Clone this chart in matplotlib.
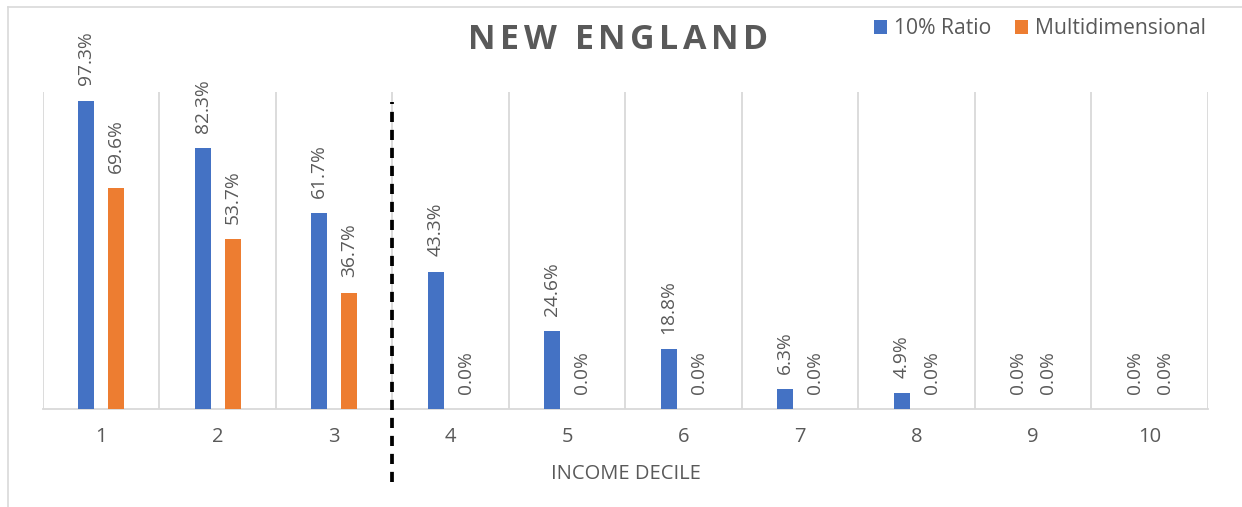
import matplotlib.pyplot as plt
import numpy as np
from matplotlib.lines import Line2D

deciles = ["1", "2", "3", "4", "5", "6", "7", "8", "9", "10"]
ratio_10 = [97.3, 82.3, 61.7, 43.3, 24.6, 18.8, 6.3, 4.9, 0.0, 0.0]
multidim = [69.6, 53.7, 36.7, 0.0, 0.0, 0.0, 0.0, 0.0, 0.0, 0.0]
series_names = ["10% Ratio", "Multidimensional"]
title = "NEW ENGLAND"
xlabel = "INCOME DECILE"
cutoff = 3.5  # dashed separator between deciles 3 and 4

BLUE = "#4472C4"
ORANGE = "#ED7D31"
GREY_TXT = "#595959"
GRID = "#D9D9D9"

plt.rcParams["font.family"] = ["Open Sans", "DejaVu Sans"]

fig = plt.figure(figsize=(12.42, 5.07), dpi=100)
ax = fig.add_axes([0.0346, 0.1933, 0.938, 0.6252])

x = np.arange(1, len(deciles) + 1)
w = 0.137
off = 0.129
b1 = ax.bar(x - off, np.array(ratio_10) / 100, w, color=BLUE, label=series_names[0], zorder=3)
b2 = ax.bar(x + off, np.array(multidim) / 100, w, color=ORANGE, label=series_names[1], zorder=3)

for bars, vals in ((b1, ratio_10), (b2, multidim)):
    for rect, v in zip(bars, vals):
        ax.annotate(f"{v:.1f}%", (rect.get_x() + rect.get_width() / 2, rect.get_height()),
                    xytext=(0, 11), textcoords="offset points", rotation=90,
                    ha="center", va="bottom", fontsize=13.8, color=GREY_TXT,
                    annotation_clip=False)

ax.set_xlim(0.5, len(deciles) + 0.5)
ax.set_ylim(0, 1)
ax.set_yticks([])
ax.set_xticks(x)
ax.set_xticklabels(deciles)
ax.set_xticks(np.arange(0.5, len(deciles) + 1, 1), minor=True)
ax.tick_params(axis="x", which="major", length=0, pad=13, labelsize=14.5, labelcolor=GREY_TXT)
ax.tick_params(axis="x", which="minor", length=0)
ax.grid(axis="x", which="minor", color=GRID, linewidth=1.3, zorder=0)
for side in ("top", "left", "right"):
    ax.spines[side].set_visible(False)
ax.spines["bottom"].set_color(GRID)
ax.spines["bottom"].set_linewidth(1.3)
ax.set_xlabel(xlabel, fontsize=14.5, color=GREY_TXT, labelpad=12)

ax.axvline(cutoff, ymin=-0.23, ymax=0.968, color="black", linewidth=2.7,
           linestyle=(0, (2.7, 2.1)), clip_on=False, zorder=4)

# title with letter spacing
fig.canvas.draw()
renderer = fig.canvas.get_renderer()
spacing = 4.5  # px
chars = []
total = 0
for ch in title:
    t = fig.text(0, 0, ch, fontsize=24.5, fontweight="bold", color=GREY_TXT)
    wpx = t.get_window_extent(renderer).width if ch != " " else 9
    t.remove()
    chars.append((ch, wpx))
    total += wpx + spacing
total -= spacing
cx = 618
xpos = cx - total / 2
for ch, wpx in chars:
    fig.text(xpos / 1242, 1 - 40 / 507, ch, fontsize=24.5, fontweight="bold",
             color=GREY_TXT, ha="left", va="center")
    xpos += wpx + spacing

fig.legend(handles=[b1, b2], loc="center right", bbox_to_anchor=(0.986, 1 - 29 / 507),
           ncol=2, frameon=False, fontsize=15.2, labelcolor=GREY_TXT,
           handlelength=0.62, handleheight=0.62, handletextpad=0.3, columnspacing=1.15)

# outer chart border (top and left visible)
fig.add_artist(Line2D([8 / 1242, 8 / 1242], [0, 1 - 7 / 507], color=GRID, linewidth=1.2))
fig.add_artist(Line2D([8 / 1242, 1], [1 - 7 / 507, 1 - 7 / 507], color=GRID, linewidth=1.2))

fig.savefig("out.png", dpi=100)
